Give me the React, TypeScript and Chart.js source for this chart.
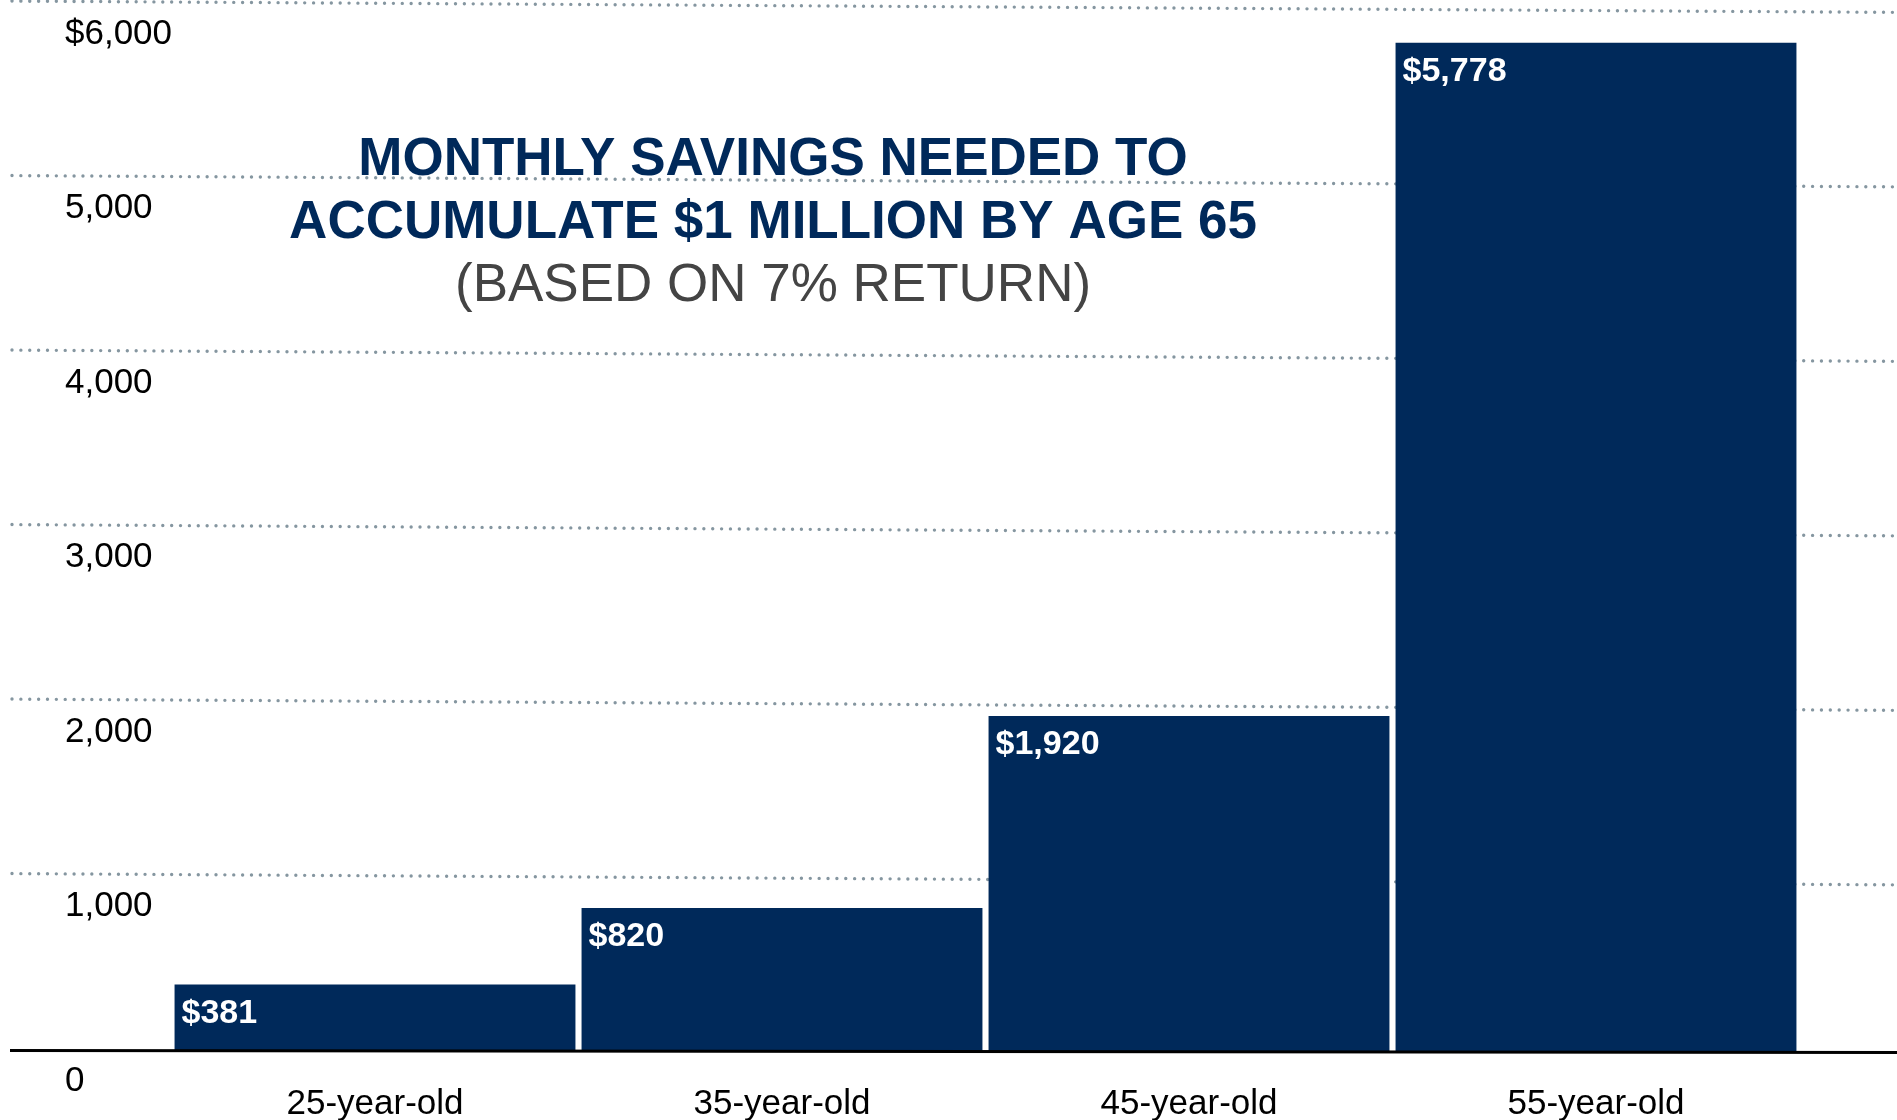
import React, { useEffect, useRef } from 'react';
import { Chart, registerables } from 'chart.js';

Chart.register(...registerables);

// ---- data ----
const categories = ['25-year-old', '35-year-old', '45-year-old', '55-year-old'];
const monthlySavings = [381, 820, 1920, 5778];
const barLabels = ['$381', '$820', '$1,920', '$5,778'];
const yTickLabels = ['0', '1,000', '2,000', '3,000', '4,000', '5,000', '$6,000'];
const titleLines = ['MONTHLY SAVINGS NEEDED TO', 'ACCUMULATE $1 MILLION BY AGE 65'];
const subtitleLine = '(BASED ON 7% RETURN)';

// ---- styles ----
const FONT = '"Liberation Sans", Arial, Helvetica, sans-serif';
const NAVY = '#00295a';
const GRID_COLOR = '#8596a0';
const SUB_COLOR = '#444444';
const GRID_TILT = 0.006;

const gridPlugin = {
  id: 'tiltedGrid',
  beforeDatasetsDraw(chart: any) {
    const ys = chart.scales.y;
    const ctx = chart.ctx;
    ctx.save();
    ctx.strokeStyle = GRID_COLOR;
    ctx.lineWidth = 3.4;
    ctx.lineCap = 'round';
    ctx.setLineDash([0, 8.87]);
    for (const t of ys.ticks) {
      if (t.value === 0) continue;
      const p = ys.getPixelForValue(t.value);
      const x0 = 12;
      const x1 = chart.width;
      ctx.beginPath();
      ctx.moveTo(x0, p + (x0 - 500) * GRID_TILT);
      ctx.lineTo(x1, p + (x1 - 500) * GRID_TILT);
      ctx.stroke();
    }
    ctx.restore();
  },
};

const overlayPlugin = {
  id: 'overlay',
  afterDatasetsDraw(chart: any) {
    const ctx = chart.ctx;
    const area = chart.chartArea;
    // baseline
    ctx.save();
    ctx.strokeStyle = '#000000';
    ctx.lineWidth = 3;
    ctx.beginPath();
    ctx.moveTo(10, area.bottom - 0.5);
    ctx.lineTo(chart.width, area.bottom + 1.5);
    ctx.stroke();
    ctx.restore();

    // bar value labels
    const meta = chart.getDatasetMeta(0);
    ctx.save();
    ctx.fillStyle = '#ffffff';
    ctx.font = `bold 34px ${FONT}`;
    ctx.textAlign = 'left';
    ctx.textBaseline = 'middle';
    meta.data.forEach((bar: any, i: number) => {
      const left = bar.x - bar.width / 2;
      ctx.fillText(barLabels[i], left + 7, bar.y + 29);
    });
    ctx.restore();
  },
  afterDraw(chart: any) {
    const ctx = chart.ctx;
    const cx = chart.width * 0.4075;
    ctx.save();
    ctx.textAlign = 'center';
    ctx.textBaseline = 'middle';
    ctx.fillStyle = NAVY;
    ctx.font = `bold 53px ${FONT}`;
    ctx.fillText(titleLines[0], cx, 160);
    ctx.fillText(titleLines[1], cx, 223);
    ctx.fillStyle = SUB_COLOR;
    ctx.font = `53px ${FONT}`;
    ctx.fillText(subtitleLine, cx, 286);
    ctx.restore();
  },
};

export default function App() {
  const canvasRef = useRef<HTMLCanvasElement | null>(null);

  useEffect(() => {
    if (!canvasRef.current) return;
    const chart = new Chart(canvasRef.current, {
      type: 'bar',
      data: {
        labels: categories,
        datasets: [
          {
            data: monthlySavings,
            backgroundColor: NAVY,
            borderWidth: 0,
            barPercentage: 0.985,
            categoryPercentage: 1,
          },
        ],
      },
      options: {
        responsive: false,
        animation: false,
        devicePixelRatio: 1,
        layout: { padding: { left: 65, right: 97.5, top: 4, bottom: 0 } },
        plugins: {
          legend: { display: false },
          tooltip: { enabled: false },
          title: { display: false },
        },
        scales: {
          x: {
            grid: { display: false, drawTicks: false },
            border: { display: false },
            ticks: {
              color: '#000000',
              font: { family: FONT, size: 35, lineHeight: 1.2 },
              padding: 32,
              maxRotation: 0,
              autoSkip: false,
            },
            afterFit(scale: any) {
              scale.height = 69;
              scale.paddingLeft = 0;
              scale.paddingRight = 0;
            },
          },
          y: {
            min: 0,
            max: 6000,
            grid: { display: false, drawTicks: false },
            border: { display: false },
            ticks: {
              stepSize: 1000,
              color: '#000000',
              font: { family: FONT, size: 35, lineHeight: 1.2 },
              crossAlign: 'far',
              labelOffset: 30,
              autoSkip: false,
              callback: (_v: any, i: number) => yTickLabels[i],
            },
            afterFit(scale: any) {
              scale.width = 106.5;
              scale.paddingTop = 0;
              scale.paddingBottom = 0;
            },
          },
        },
      },
      plugins: [gridPlugin, overlayPlugin],
    });
    return () => chart.destroy();
  }, []);

  return (
    <div style={{ position: 'fixed', left: 0, top: 0, width: 1897, height: 1120, background: '#ffffff' }}>
      <canvas ref={canvasRef} width={1897} height={1120} style={{ display: 'block' }} />
    </div>
  );
}
